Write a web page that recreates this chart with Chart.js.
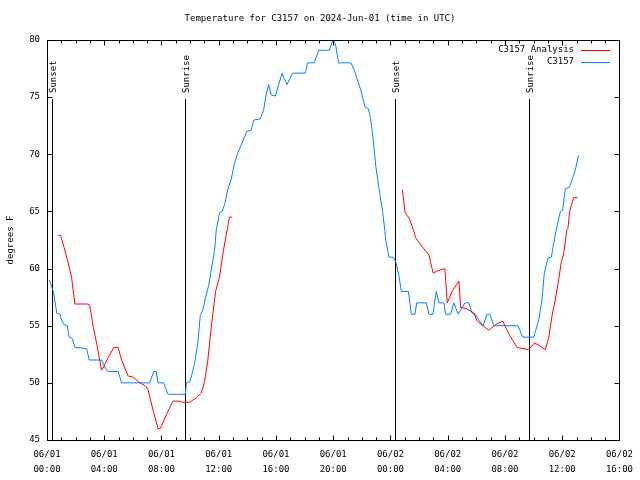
<!DOCTYPE html>
<html>
<head>
<meta charset="utf-8">
<script src="https://cdn.jsdelivr.net/npm/chart.js@4/dist/chart.umd.min.js"></script>
<style>
  html, body { margin: 0; padding: 0; background: #fff; }
  canvas { display: block; }
</style>
</head>
<body>
<canvas id="tempChart" width="640" height="480"></canvas>
<script>
// hours since 06/01 00:00 UTC, temperature in degrees F
const obsHours = [0.16, 0.33, 0.44, 0.56, 0.68, 0.91, 1.02, 1.18, 1.41, 1.55, 1.76, 1.95, 2.77, 2.95, 3.81, 4.04, 4.23, 4.97, 5.21, 7.18,
  7.46, 7.64, 7.76, 8.15, 8.45, 9.67, 9.74, 9.97, 10.08, 10.31, 10.54, 10.71, 10.89, 11.06, 11.31, 11.48, 11.71, 11.83, 12.06, 12.24,
  12.43, 12.63, 12.87, 13.10, 13.33, 13.80, 13.96, 14.26, 14.45, 14.91, 15.14, 15.31, 15.49, 15.66, 15.96, 16.19, 16.43, 16.54, 16.77, 17.16,
  18.05, 18.21, 18.68, 18.98, 19.72, 19.95, 20.07, 20.19, 20.37, 21.23, 21.46, 21.69, 21.93, 22.23, 22.46, 22.63, 22.79, 22.98, 23.21, 23.44,
  23.60, 23.67, 23.90, 24.18, 24.37, 24.60, 24.76, 25.25, 25.46, 25.71, 25.83, 26.50, 26.69, 26.97, 27.20, 27.39, 27.74, 27.85, 28.20, 28.43,
  28.73, 29.20, 29.48, 29.71, 29.94, 30.13, 30.47, 30.75, 30.94, 31.22, 32.91, 33.24, 34.01, 34.36, 34.59, 34.75, 35.00, 35.24, 35.40, 35.59,
  35.87, 36.03, 36.22, 36.50, 36.91, 37.14];
const obsTemps = [59.0, 58.4, 58.0, 57.1, 56.1, 56.0, 55.5, 55.1, 55.0, 54.0, 53.9, 53.1, 53.0, 52.0, 52.0, 51.4, 51.0, 51.0, 50.0, 50.0,
  51.0, 51.0, 50.0, 50.0, 49.0, 49.0, 50.0, 50.1, 50.5, 51.7, 53.5, 55.9, 56.4, 57.4, 58.6, 59.9, 61.6, 63.4, 64.9, 65.0,
  65.7, 66.9, 67.8, 69.2, 70.1, 71.5, 72.0, 72.1, 73.0, 73.1, 73.9, 75.2, 76.1, 75.2, 75.1, 76.1, 77.1, 76.7, 76.1, 77.1,
  77.1, 78.0, 78.0, 79.1, 79.1, 79.9, 79.9, 79.4, 78.0, 78.0, 77.4, 76.5, 75.6, 74.1, 74.0, 73.0, 71.3, 68.9, 66.9, 65.1,
  63.4, 62.5, 61.0, 61.0, 60.6, 59.3, 58.0, 58.0, 56.0, 56.0, 57.0, 57.0, 56.0, 56.0, 58.0, 57.0, 57.0, 56.0, 56.0, 57.0,
  56.0, 57.0, 57.0, 56.1, 56.0, 55.6, 55.0, 56.0, 56.0, 55.0, 55.0, 54.0, 54.0, 55.5, 57.3, 59.6, 60.9, 61.0, 62.2, 63.4,
  65.0, 65.1, 67.0, 67.1, 68.6, 69.9];

const analysisHours = [0.79, 0.95, 1.18, 1.48, 1.72, 1.83, 1.95, 2.88, 3.00, 3.23, 3.51, 3.81, 3.92, 4.27, 4.67, 4.97, 5.21, 5.67, 6.01, 6.48,
  6.90, 7.06, 7.41, 7.76, 7.92, 8.34, 8.80, 9.27, 9.46, 9.97, 10.43, 10.78, 11.01, 11.24, 11.48, 11.78, 12.06, 12.33, 12.59, 12.63,
  12.75, 12.94, 18.0,
  24.83, 24.88, 25.02, 25.30, 25.60, 25.76, 26.22, 26.69, 26.81, 26.99, 27.27, 27.80, 27.97, 28.31, 28.78, 28.90, 29.29, 29.83, 30.06, 30.45,
  30.87, 31.34, 31.85, 32.26, 32.84, 33.66, 34.06, 34.36, 34.82, 35.05, 35.28, 35.52, 35.75, 35.94, 36.10, 36.33, 36.40, 36.52, 36.68, 36.79,
  37.07];
const analysisTemps = [62.9, 62.9, 61.9, 60.5, 59.2, 58.1, 56.9, 56.9, 56.7, 54.9, 53.2, 51.1, 51.3, 52.2, 53.1, 53.1, 52.0, 50.6, 50.5, 50.0,
  49.7, 49.4, 47.6, 46.0, 46.0, 47.2, 48.4, 48.4, 48.3, 48.3, 48.7, 49.1, 50.1, 52.0, 54.9, 58.0, 59.3, 61.6, 63.4, 63.7,
  64.5, 64.5, null,
  66.9, 66.4, 64.9, 64.4, 63.4, 62.7, 61.9, 61.2, 60.5, 59.6, 59.8, 60.0, 57.0, 58.0, 58.9, 56.6, 56.5, 56.1, 55.4, 55.0,
  54.6, 55.1, 55.4, 54.3, 53.1, 52.9, 53.5, 53.3, 52.9, 53.9, 55.8, 57.3, 59.0, 60.6, 61.3, 63.4, 63.5, 65.0, 65.7, 66.2,
  66.2];

const sunLabels = ['Sunset', 'Sunrise', 'Sunset', 'Sunrise'];
const sunHours = [0.33, 9.64, 24.34, 33.68];

const xTickLabels = [
  ['06/01', '00:00'], ['06/01', '04:00'], ['06/01', '08:00'], ['06/01', '12:00'],
  ['06/01', '16:00'], ['06/01', '20:00'], ['06/02', '00:00'], ['06/02', '04:00'],
  ['06/02', '08:00'], ['06/02', '12:00'], ['06/02', '16:00']
];

const chartTitle = 'Temperature for C3157 on 2024-Jun-01 (time in UTC)';
const yTitle = 'degrees F';

const FONT = '"DejaVu Sans Mono", "Liberation Mono", monospace';
Chart.defaults.font.family = FONT;
Chart.defaults.font.size = 9;
Chart.defaults.color = '#000';

function toPoints(xs, ys) {
  return xs.map((x, i) => ({ x: x, y: ys[i] }));
}

// gnuplot style frame, inward ticks, sun markers, title and legend
const gnuFrame = {
  id: 'gnuFrame',
  beforeDatasetsDraw(chart) {
    const ctx = chart.ctx;
    const area = chart.chartArea;
    const xs = chart.scales.x;
    ctx.save();
    ctx.strokeStyle = '#000';
    ctx.lineWidth = 1;
    ctx.fillStyle = '#000';
    ctx.font = '9px ' + FONT;
    sunHours.forEach((h, i) => {
      const px = Math.round(xs.getPixelForValue(h)) + 0.5;
      ctx.beginPath();
      ctx.moveTo(px, area.top + 59);
      ctx.lineTo(px, area.bottom);
      ctx.stroke();
      ctx.save();
      ctx.translate(px + 1, area.top + 53);
      ctx.rotate(-Math.PI / 2);
      ctx.textAlign = 'left';
      ctx.textBaseline = 'middle';
      ctx.fillText(sunLabels[i], 0, 0);
      ctx.restore();
    });
    ctx.restore();
  },
  afterDraw(chart) {
    const ctx = chart.ctx;
    const area = chart.chartArea;
    const xs = chart.scales.x;
    const ys = chart.scales.y;
    ctx.save();
    ctx.strokeStyle = '#000';
    ctx.lineWidth = 1;

    const l = Math.round(area.left) + 0.5;
    const r = Math.round(area.right) + 0.5;
    const t = Math.round(area.top) + 0.5;
    const b = Math.round(area.bottom) + 0.5;
    ctx.strokeRect(l, t, r - l, b - t);

    ctx.beginPath();
    for (let h = 0; h <= 40; h++) {
      const len = h % 4 === 0 ? 5 : 3;
      const px = Math.round(xs.getPixelForValue(h)) + 0.5;
      ctx.moveTo(px, b); ctx.lineTo(px, b - len);
      ctx.moveTo(px, t); ctx.lineTo(px, t + len);
    }
    for (let v = 45; v <= 80; v += 5) {
      const py = Math.round(ys.getPixelForValue(v)) + 0.5;
      ctx.moveTo(l, py); ctx.lineTo(l + 5, py);
      ctx.moveTo(r, py); ctx.lineTo(r - 5, py);
    }
    ctx.stroke();

    ctx.fillStyle = '#000';
    ctx.font = '9px ' + FONT;
    ctx.textAlign = 'center';
    ctx.textBaseline = 'middle';
    ctx.fillText(chartTitle, 320, 19);

    ctx.save();
    ctx.translate(11, 240);
    ctx.rotate(-Math.PI / 2);
    ctx.fillText(yTitle, 0, 0);
    ctx.restore();

    // legend, top right
    ctx.textAlign = 'right';
    chart.data.datasets.forEach((ds, i) => {
      const y = 50 + i * 12;
      ctx.fillStyle = '#000';
      ctx.fillText(ds.label, 574, y);
      ctx.strokeStyle = ds.borderColor;
      ctx.beginPath();
      ctx.moveTo(581, Math.round(y) + 0.5);
      ctx.lineTo(610, Math.round(y) + 0.5);
      ctx.stroke();
    });
    ctx.restore();
  }
};

new Chart(document.getElementById('tempChart').getContext('2d'), {
  type: 'line',
  data: {
    datasets: [
      {
        label: 'C3157 Analysis',
        data: toPoints(analysisHours, analysisTemps),
        borderColor: '#ff0000',
        borderWidth: 1,
        pointRadius: 0,
        tension: 0,
        spanGaps: false
      },
      {
        label: 'C3157',
        data: toPoints(obsHours, obsTemps),
        borderColor: '#0080ff',
        borderWidth: 1,
        pointRadius: 0,
        tension: 0
      }
    ]
  },
  options: {
    responsive: false,
    animation: false,
    layout: { padding: { top: 40, right: 19, left: 0, bottom: 0 } },
    plugins: {
      legend: { display: false },
      title: { display: false },
      tooltip: { enabled: false }
    },
    scales: {
      x: {
        type: 'linear',
        min: 0,
        max: 40,
        grid: { display: false, drawTicks: false },
        border: { display: false },
        ticks: {
          stepSize: 4,
          autoSkip: false,
          maxRotation: 0,
          padding: 7,
          font: { size: 9, lineHeight: 1.65 },
          callback: (v, i) => xTickLabels[i]
        },
        afterFit: s => { s.height = 40; }
      },
      y: {
        min: 45,
        max: 80,
        grid: { display: false, drawTicks: false },
        border: { display: false },
        ticks: {
          stepSize: 5,
          padding: 7,
          font: { size: 9 }
        },
        afterFit: s => { s.width = 47; }
      }
    }
  },
  plugins: [gnuFrame]
});
</script>
</body>
</html>
